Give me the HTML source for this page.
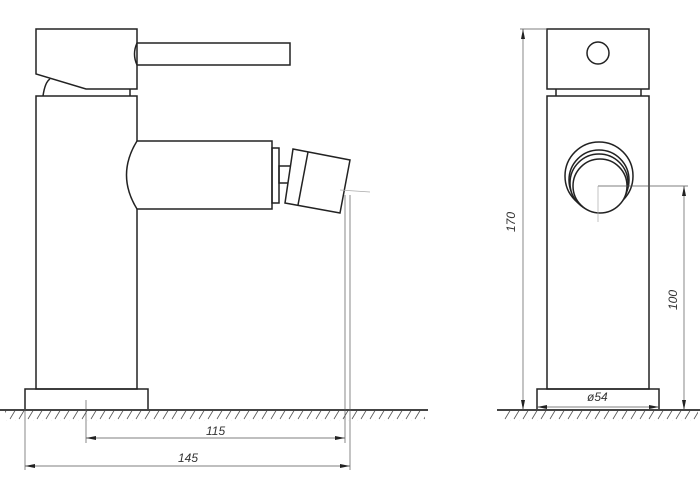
<!DOCTYPE html>
<html><head><style>body{margin:0;background:#fff}svg{display:block}text{font-family:"Liberation Sans",sans-serif;font-style:italic;font-size:12px;fill:#333}</style></head>
<body><svg width="700" height="500" viewBox="0 0 700 500" xmlns="http://www.w3.org/2000/svg">
<defs>
<pattern id="h" width="9" height="12" patternUnits="userSpaceOnUse"><line x1="7" y1="1" x2="1" y2="11" stroke="#555" stroke-width="0.8"/></pattern>
<marker id="a" viewBox="0 0 10 4" refX="10" refY="2" markerWidth="10" markerHeight="4" orient="auto-start-reverse" markerUnits="userSpaceOnUse"><path d="M0,0L10,2L0,4z" fill="#222"/></marker>
</defs>
<g fill="none" stroke="#222" stroke-width="1.5">
<path d="M36,29H137V89H86L36,74Z" fill="#fff"/>
<path d="M137,43H290V65H137Q132,54 137,43Z"/>
<path d="M43,96Q45,82 50,79"/>
<path d="M130,89V96"/>
<rect x="36" y="96" width="101" height="293"/>
<path d="M137,141H272V209H137Q116,175 137,141Z" fill="#fff"/>
<rect x="272" y="148" width="7" height="55"/>
<rect x="279" y="166" width="13" height="17"/>
<path d="M293,149L350,160L340,213L285,203Z" fill="#fff"/>
<path d="M308,152L298,205"/>
<rect x="25" y="389" width="123" height="21"/>
<rect x="547" y="29" width="102" height="60"/>
<circle cx="598" cy="53" r="11"/>
<path d="M556,89V96M641,89V96"/>
<rect x="547" y="96" width="102" height="293"/>
<circle cx="599" cy="176" r="34"/>
<circle cx="599" cy="180" r="30" fill="#fff"/>
<circle cx="599" cy="183" r="29" fill="#fff"/>
<circle cx="600" cy="186" r="27" fill="#fff"/>
<rect x="537" y="389" width="122" height="21"/>
</g>
<rect x="5" y="411" width="420" height="10" fill="url(#h)"/>
<rect x="503" y="411" width="195" height="10" fill="url(#h)"/>
<g stroke="#444" stroke-width="2"><line x1="0" y1="410" x2="428" y2="410"/><line x1="497" y1="410" x2="700" y2="410"/></g>
<g stroke="#555" stroke-width="0.7" fill="none">
<line x1="340" y1="190" x2="370" y2="192" stroke="#aaa"/>
<line x1="345" y1="195" x2="345" y2="443"/>
<line x1="350" y1="195" x2="350" y2="470"/>
<line x1="86" y1="400" x2="86" y2="443"/>
<line x1="25" y1="410" x2="25" y2="470"/>
<line x1="86" y1="438" x2="345" y2="438" marker-start="url(#a)" marker-end="url(#a)"/>
<line x1="25" y1="466" x2="350" y2="466" marker-start="url(#a)" marker-end="url(#a)"/>
<line x1="520" y1="29" x2="547" y2="29"/>
<line x1="523" y1="29" x2="523" y2="410" marker-start="url(#a)" marker-end="url(#a)"/>
<line x1="598" y1="186" x2="688" y2="186"/>
<line x1="598" y1="186" x2="598" y2="222" stroke="#aaa"/>
<line x1="684" y1="186" x2="684" y2="410" marker-start="url(#a)" marker-end="url(#a)"/>
<line x1="537" y1="407" x2="659" y2="407" marker-start="url(#a)" marker-end="url(#a)"/>
</g>
<text x="206" y="435">115</text>
<text x="178" y="462">145</text>
<text x="587" y="401">ø54</text>
<text transform="translate(515,232) rotate(-90)">170</text>
<text transform="translate(677,310) rotate(-90)">100</text>
</svg></body></html>
